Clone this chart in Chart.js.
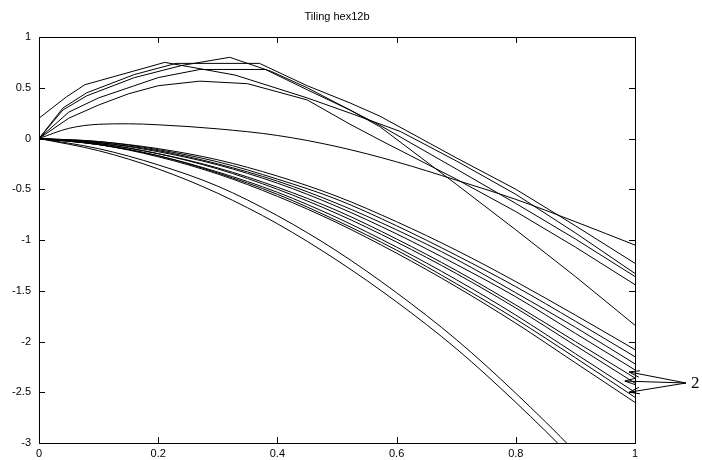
<!DOCTYPE html>
<html>
<head>
<meta charset="utf-8">
<script src="https://cdn.jsdelivr.net/npm/chart.js@4"></script>
<style>
  html, body { margin: 0; padding: 0; background: #fff; }
  #wrap { width: 702px; height: 460px; }
</style>
</head>
<body>
<div id="wrap"><canvas id="chart" width="702" height="460"></canvas></div>
<script>
const chartTitle = "Tiling hex12b";
const xTicks = [0, 0.2, 0.4, 0.6, 0.8, 1];
const yTicks = [-3, -2.5, -2, -1.5, -1, -0.5, 0, 0.5, 1];

// shared x grid for the smooth curves
const xs = [0, 0.1, 0.2, 0.3, 0.4, 0.5, 0.6, 0.7, 0.8, 0.9, 1];

// lower bundle
const low1 = [0, -0.03, -0.10, -0.21, -0.37, -0.57, -0.82, -1.10, -1.41, -1.74, -2.08];
const low2 = [0, -0.03, -0.11, -0.23, -0.40, -0.60, -0.86, -1.15, -1.46, -1.80, -2.15];
const low3 = [0, -0.04, -0.12, -0.25, -0.42, -0.64, -0.90, -1.19, -1.52, -1.86, -2.22];
const low4 = [0, -0.04, -0.13, -0.26, -0.44, -0.67, -0.94, -1.24, -1.56, -1.92, -2.28];
const low5 = [0, -0.05, -0.15, -0.29, -0.48, -0.71, -0.99, -1.30, -1.64, -2.00, -2.36];
const low6 = [0, -0.05, -0.15, -0.30, -0.50, -0.74, -1.02, -1.33, -1.67, -2.04, -2.41];
const low7 = [0, -0.06, -0.17, -0.33, -0.53, -0.78, -1.07, -1.39, -1.74, -2.12, -2.50];
const low8 = [0, -0.06, -0.17, -0.34, -0.55, -0.81, -1.10, -1.43, -1.78, -2.16, -2.55];
const low9 = [0, -0.06, -0.18, -0.35, -0.57, -0.83, -1.13, -1.46, -1.82, -2.21, -2.60];
const steep1 = [0, -0.10, -0.26, -0.47, -0.76, -1.11, -1.52, -1.98, -2.51, -3.09, -3.74];
const steep2 = [0, -0.12, -0.30, -0.54, -0.84, -1.20, -1.61, -2.07, -2.60, -3.18, -3.82];

// low hump
const humpX = [0, 0.05, 0.1, 0.15, 0.2, 0.3, 0.4, 0.5, 0.6, 0.7, 0.8, 0.9, 1];
const humpY = [0, 0.10, 0.14, 0.145, 0.135, 0.095, 0.03, -0.08, -0.23, -0.41, -0.60, -0.82, -1.05];

// upper curves (kinked)
const peakX = [0, 0.04, 0.08, 0.16, 0.24, 0.32, 0.39, 0.45, 0.522, 0.572, 0.7, 0.8, 0.9, 1];
const peakY = [0, 0.28, 0.42, 0.60, 0.72, 0.80, 0.66, 0.50, 0.28, 0.116, -0.45, -0.90, -1.36, -1.84];
const flatAX = [0, 0.04, 0.08, 0.16, 0.23, 0.37, 0.45, 0.522, 0.572, 0.7, 0.8, 0.9, 1];
const flatAY = [0, 0.30, 0.45, 0.63, 0.74, 0.74, 0.52, 0.35, 0.22, -0.19, -0.50, -0.86, -1.23];
const flatBX = [0, 0.05, 0.1, 0.2, 0.27, 0.38, 0.45, 0.522, 0.572, 0.7, 0.8, 0.9, 1];
const flatBY = [0, 0.26, 0.40, 0.60, 0.68, 0.68, 0.48, 0.28, 0.13, -0.30, -0.64, -0.99, -1.36];
const kinkX = [0, 0.046, 0.077, 0.211, 0.329, 0.45, 0.522, 0.606, 0.7, 0.8, 0.9, 1];
const kinkY = [0.2, 0.41, 0.53, 0.75, 0.625, 0.40, 0.25, 0.07, -0.22, -0.55, -0.93, -1.33];
const midX = [0, 0.05, 0.1, 0.15, 0.2, 0.27, 0.35, 0.45, 0.522, 0.572, 0.7, 0.8, 0.9, 1];
const midY = [0, 0.20, 0.33, 0.44, 0.52, 0.565, 0.54, 0.38, 0.14, -0.015, -0.40, -0.72, -1.07, -1.44];

// arrows to the "2" label (y values where the heads sit)
const arrowTipX = [0.99, 0.983, 0.99];
const arrowTipY = [-2.30, -2.39, -2.50];
const arrowLabel = "2";

function pts(xv, yv) {
  return xv.map((x, i) => ({ x: x, y: yv[i] }));
}

function line(xv, yv, smooth) {
  return {
    data: pts(xv, yv),
    borderColor: "#000",
    borderWidth: 1,
    pointRadius: 0,
    fill: false,
    tension: 0,
    cubicInterpolationMode: smooth ? "monotone" : "default",
  };
}

const lowers = [low1, low2, low3, low4, low5, low6, low7, low8, low9, steep1, steep2];

const datasets = lowers.map((ys) => line(xs, ys, true));
datasets.push(line(humpX, humpY, true));
datasets.push(line(peakX, peakY, false));
datasets.push(line(flatAX, flatAY, false));
datasets.push(line(flatBX, flatBY, false));
datasets.push(line(kinkX, kinkY, false));
datasets.push(line(midX, midY, false));

function drawArrow(ctx, x1, y1, x2, y2) {
  const ang = Math.atan2(y2 - y1, x2 - x1);
  const len = 11;
  const spread = 0.3;
  ctx.beginPath();
  ctx.moveTo(x1, y1);
  ctx.lineTo(x2, y2);
  ctx.moveTo(x2 - len * Math.cos(ang - spread), y2 - len * Math.sin(ang - spread));
  ctx.lineTo(x2, y2);
  ctx.lineTo(x2 - len * Math.cos(ang + spread), y2 - len * Math.sin(ang + spread));
  ctx.stroke();
}

const fmt = (v) => String(Math.round(v * 10) / 10);

const framePlugin = {
  id: "frame",
  afterDraw(chart) {
    const ctx = chart.ctx;
    const a = chart.chartArea;
    const sx = chart.scales.x;
    const sy = chart.scales.y;
    ctx.save();
    ctx.strokeStyle = "#000";
    ctx.lineWidth = 1;
    ctx.strokeRect(Math.round(a.left) + 0.5, Math.round(a.top) + 0.5,
      Math.round(a.right - a.left), Math.round(a.bottom - a.top));
    const t = 6;
    ctx.beginPath();
    yTicks.forEach((v) => {
      const py = Math.round(sy.getPixelForValue(v)) + 0.5;
      ctx.moveTo(a.left, py); ctx.lineTo(a.left + t, py);
      ctx.moveTo(a.right, py); ctx.lineTo(a.right - t, py);
    });
    xTicks.forEach((v) => {
      const px = Math.round(sx.getPixelForValue(v)) + 0.5;
      ctx.moveTo(px, a.bottom); ctx.lineTo(px, a.bottom - t);
      ctx.moveTo(px, a.top); ctx.lineTo(px, a.top + t);
    });
    ctx.stroke();

    // title
    ctx.fillStyle = "#000";
    ctx.font = "11px 'Liberation Sans', Arial, sans-serif";
    ctx.textAlign = "center";
    ctx.textBaseline = "middle";
    ctx.fillText(chartTitle, (a.left + a.right) / 2, 17);

    // arrows and label
    const labX = 686, labY = 383;
    arrowTipX.forEach((xv, i) => {
      drawArrow(ctx, labX, labY, sx.getPixelForValue(xv), sy.getPixelForValue(arrowTipY[i]));
    });
    ctx.font = "17px 'Liberation Serif', 'Times New Roman', serif";
    ctx.textAlign = "left";
    ctx.fillText(arrowLabel, 691, 384);
    ctx.restore();
  },
};

new Chart(document.getElementById("chart"), {
  type: "line",
  data: { datasets: datasets },
  options: {
    responsive: false,
    animation: false,
    events: [],
    layout: { padding: { left: 0, right: 67, top: 37, bottom: 0 } },
    plugins: {
      legend: { display: false },
      tooltip: { enabled: false },
      title: { display: false },
    },
    scales: {
      x: {
        type: "linear",
        min: 0,
        max: 1,
        grid: { display: false, drawTicks: false },
        border: { display: false },
        afterFit: (s) => { s.height = 17; },
        afterBuildTicks: (s) => { s.ticks = xTicks.map((v) => ({ value: v })); },
        ticks: {
          color: "#000",
          padding: 4,
          maxRotation: 0,
          callback: fmt,
          font: { family: "'Liberation Sans', Arial, sans-serif", size: 11 },
        },
      },
      y: {
        type: "linear",
        min: -3,
        max: 1,
        grid: { display: false, drawTicks: false },
        border: { display: false },
        afterFit: (s) => { s.width = 39; },
        afterBuildTicks: (s) => { s.ticks = yTicks.map((v) => ({ value: v })); },
        ticks: {
          color: "#000",
          padding: 8,
          callback: fmt,
          font: { family: "'Liberation Sans', Arial, sans-serif", size: 11 },
        },
      },
    },
  },
  plugins: [framePlugin],
});
</script>
</body>
</html>
